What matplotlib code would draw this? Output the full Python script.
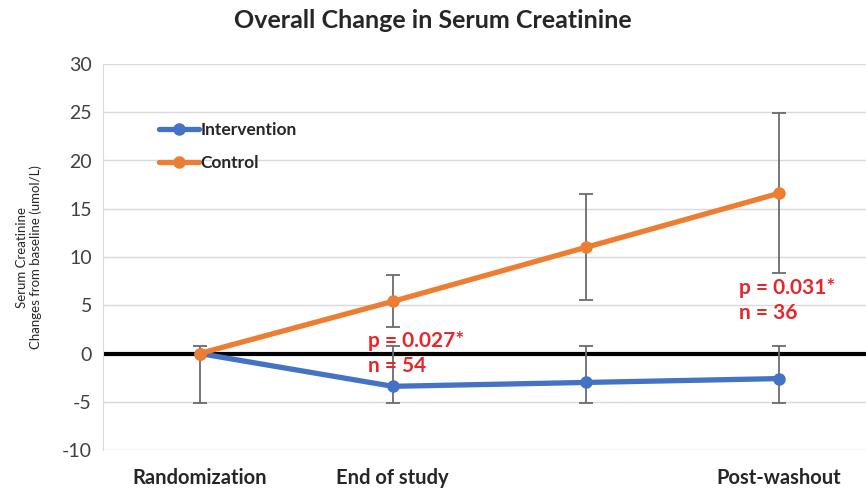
import matplotlib
matplotlib.use("Agg")
import matplotlib.pyplot as plt
import numpy as np

plt.rcParams['font.family'] = ['Lato', 'DejaVu Sans']
plt.rcParams['axes.unicode_minus'] = False

categories = ["Randomization", "End of study", "", "Post-washout"]
intervention = [0.0, -3.4, -3.0, -2.6]
intervention_hi = [0.8, 0.8, 0.8, 0.8]
intervention_lo = [-5.1, -5.1, -5.1, -5.1]
control = [0.0, 5.4, 11.0, 16.6]
control_hi = [0.0, 8.1, 16.5, 24.9]
control_lo = [0.0, 2.7, 5.5, 8.3]
y_ticks = [-10, -5, 0, 5, 10, 15, 20, 25, 30]

blue = "#4472C4"
orange = "#ED7D31"
red = "#E8262A"
err_col = "#6b6b6b"

fig = plt.figure(figsize=(8.66, 4.90), dpi=100)
ax = fig.add_axes([103/866, 40/490, 763/866, 386/490])

x = np.arange(len(categories))

ax.set_xlim(-0.5, 3.45)
ax.set_ylim(-10, 30)
ax.set_yticks(y_ticks)
ax.yaxis.grid(True, color="#d9d9d9", linewidth=1.0)
ax.set_axisbelow(True)
for s in ["top", "right", "bottom"]:
    ax.spines[s].set_visible(False)
ax.spines["left"].set_color("#d9d9d9")
ax.tick_params(axis="both", length=0)
ax.tick_params(axis="y", labelsize=14, colors="#404040", pad=8)
ax.set_xticks(x)
ax.set_xticklabels(categories, fontsize=14.5, fontweight="bold", color="#262626")
ax.tick_params(axis="x", pad=13)

ax.axhline(0, color="black", linewidth=3.0, zorder=2)

# error bars
ib = np.array(intervention)
ax.errorbar(x, ib, yerr=[ib - np.array(intervention_lo), np.array(intervention_hi) - ib],
            fmt="none", ecolor=err_col, elinewidth=1.3, capsize=5, capthick=1.3, zorder=3)
cb = np.array(control)
cx = x[1:]
ax.errorbar(cx, cb[1:], yerr=[cb[1:] - np.array(control_lo[1:]), np.array(control_hi[1:]) - cb[1:]],
            fmt="none", ecolor=err_col, elinewidth=1.3, capsize=5, capthick=1.3, zorder=3)

ax.plot(x, intervention, color=blue, linewidth=3.8, marker="o", markersize=8,
        label="Intervention", zorder=4, solid_capstyle="round")
ax.plot(x, control, color=orange, linewidth=3.8, marker="o", markersize=8,
        label="Control", zorder=5, solid_capstyle="round")

leg = ax.legend(loc="upper left", bbox_to_anchor=(0.053, 0.89), frameon=False,
                handlelength=2.3, handletextpad=0.1, labelspacing=0.95,
                prop={"size": 12.5, "weight": "bold"})
for t in leg.get_texts():
    t.set_color("#262626")

ax.text(0.87, 0.0, "p = 0.027*\nn = 54", color=red, fontsize=15, fontweight="bold",
        ha="left", va="center", linespacing=1.35, zorder=6)
ax.text(2.79, 5.5, "p = 0.031*\nn = 36", color=red, fontsize=15, fontweight="bold",
        ha="left", va="center", linespacing=1.35, zorder=6)

ax.set_ylabel("Serum Creatinine\nChanges from baseline (umol/L)", fontsize=9.5, color="#262626",
              labelpad=14)

fig.text(0.5, 0.958, "Overall Change in Serum Creatinine", ha="center", va="center",
         fontsize=18, fontweight="bold", color="#262626")

fig.savefig("out.png", dpi=100)
